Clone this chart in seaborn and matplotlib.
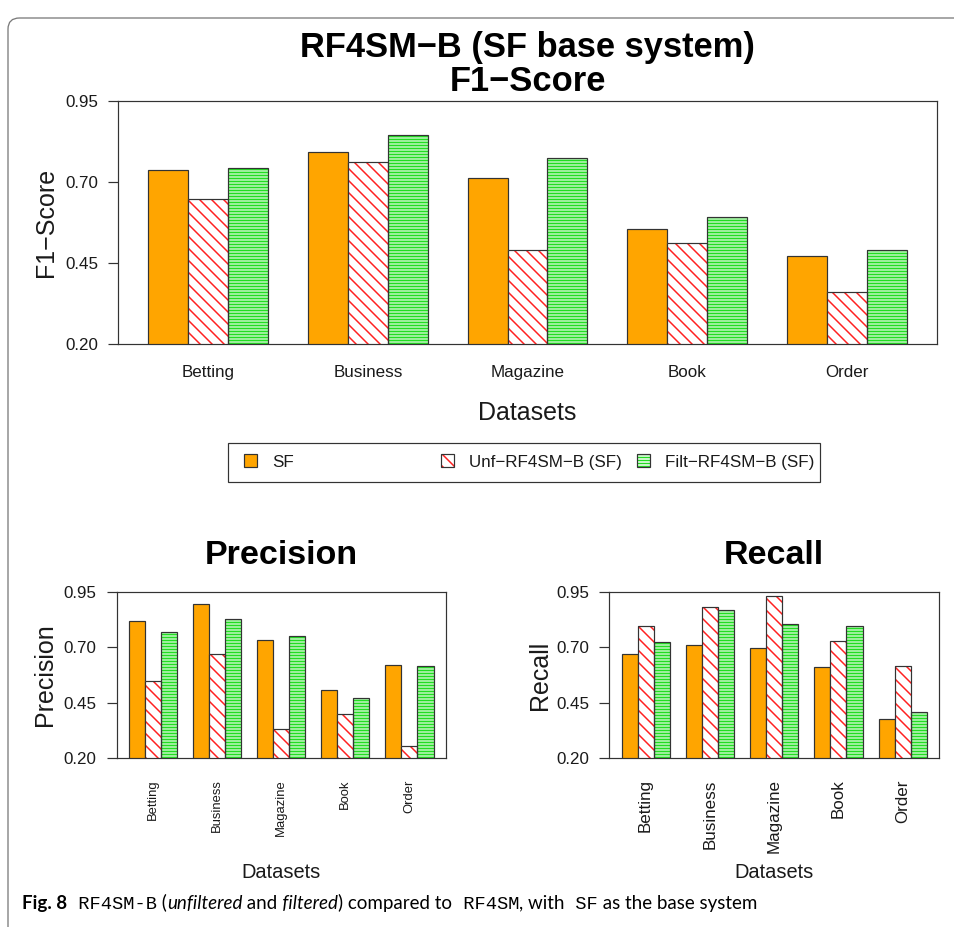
import matplotlib
matplotlib.use("Agg")
import matplotlib.pyplot as plt
import seaborn as sns
import pandas as pd
from matplotlib.patches import Patch, Rectangle, FancyBboxPatch
from matplotlib.offsetbox import TextArea, HPacker, AnchoredOffsetbox

# ---------------- data ----------------
datasets = ["Betting", "Business", "Magazine", "Book", "Order"]
methods = ["SF", "Unf\u2212RF4SM\u2212B (SF)", "Filt\u2212RF4SM\u2212B (SF)"]

f1_sf = [0.736, 0.792, 0.713, 0.556, 0.471]
f1_unf = [0.649, 0.761, 0.489, 0.513, 0.361]
f1_filt = [0.742, 0.846, 0.775, 0.592, 0.489]

prec_sf = [0.817, 0.896, 0.733, 0.509, 0.622]
prec_unf = [0.550, 0.671, 0.334, 0.398, 0.256]
prec_filt = [0.767, 0.827, 0.752, 0.470, 0.617]

rec_sf = [0.671, 0.712, 0.697, 0.613, 0.377]
rec_unf = [0.796, 0.883, 0.931, 0.728, 0.617]
rec_filt = [0.724, 0.868, 0.803, 0.797, 0.407]

yticks = [0.20, 0.45, 0.70, 0.95]
ytick_labels = ["0.20", "0.45", "0.70", "0.95"]

# ---------------- style ----------------
sns.set_style("white")
plt.rcParams["font.family"] = ["Liberation Sans", "DejaVu Sans"]
plt.rcParams["hatch.linewidth"] = 1.5

W, H = 954, 927
DPI = 72
fig = plt.figure(figsize=(W / DPI, H / DPI), dpi=DPI)
fig.patch.set_facecolor("white")

ORANGE = "#FFA500"
RED = "#FF2020"
GREEN = "#22DD22"
EDGE = "#333333"
TXT = "#1a1a1a"


def px_axes(x0, y0, x1, y1):
    return fig.add_axes([x0 / W, 1 - y1 / H, (x1 - x0) / W, (y1 - y0) / H])


def make_df(sf, unf, filt):
    rows = []
    for vals, m in zip([sf, unf, filt], methods):
        for d, v in zip(datasets, vals):
            rows.append({"Dataset": d, "Method": m, "Value": v})
    return pd.DataFrame(rows)


styles = [
    dict(face=ORANGE, hatch=None, hcol=None, hlw=None),
    dict(face="white", hatch="\\\\", hcol=RED, hlw=1.5),
    dict(face="white", hatch="----", hcol=GREEN, hlw=1.9),
]


def draw_bars(ax, sf, unf, filt, xfs, rot, xpad, ylab, ylab_x, xlab_y, xlab_fs):
    df = make_df(sf, unf, filt)
    sns.barplot(data=df, x="Dataset", y="Value", hue="Method", order=datasets,
                hue_order=methods, palette=[ORANGE, "white", "white"],
                width=0.75, gap=0, edgecolor=EDGE, linewidth=1.2,
                saturation=1, legend=False, ax=ax, errorbar=None)
    for cont, st in zip(ax.containers, styles):
        for bar in cont:
            if st["hatch"] is None:
                bar.set_facecolor(st["face"])
                continue
            bar.set_facecolor("white")
            bar.set_hatch(st["hatch"])
            bar.set_edgecolor(st["hcol"])
            bar.set_linewidth(0)
            if hasattr(bar, "set_hatch_linewidth"):
                bar.set_hatch_linewidth(st["hlw"])
            ax.add_patch(Rectangle((bar.get_x(), bar.get_y()), bar.get_width(),
                                   bar.get_height(), fill=False, ec=EDGE, lw=1.2,
                                   zorder=bar.get_zorder() + 0.1))
    ax.set_xlim(-0.565, 4.565)
    ax.set_ylim(0.20, 0.95)
    ax.set_yticks(yticks)
    ax.set_yticklabels(ytick_labels)
    ax.set_xticks(range(len(datasets)))
    ax.set_xticklabels(datasets, rotation=rot)
    ax.tick_params(axis="y", length=10, width=1.2, color=EDGE, pad=10,
                   labelsize=17, labelcolor=TXT, left=True)
    ax.tick_params(axis="x", length=0, pad=xpad, labelsize=xfs, labelcolor=TXT)
    for s in ax.spines.values():
        s.set_visible(True)
        s.set_color(EDGE)
        s.set_linewidth(1.2)
    ax.set_ylabel(ylab, fontsize=25, color=TXT)
    ax.yaxis.set_label_coords(ylab_x, 0.5)
    ax.set_xlabel("Datasets", fontsize=xlab_fs, color=TXT, va="center")
    ax.xaxis.set_label_coords(0.5, xlab_y)


# ---------------- top F1 chart ----------------
ax_top = px_axes(118, 101, 937, 344)
draw_bars(ax_top, f1_sf, f1_unf, f1_filt, xfs=17, rot=0, xpad=21,
          ylab="F1\u2212Score", ylab_x=-0.073, xlab_y=-0.286, xlab_fs=25)
ax_top.text(0.5, 1.183, "RF4SM\u2212B (SF base system)", transform=ax_top.transAxes,
            ha="center", va="baseline", fontsize=34.5, fontweight="bold", color="black")
ax_top.text(0.5, 1.043, "F1\u2212Score", transform=ax_top.transAxes,
            ha="center", va="baseline", fontsize=34.5, fontweight="bold", color="black")

# ---------------- bottom charts ----------------
ax_p = px_axes(116.7, 591.7, 445.7, 758.3)
draw_bars(ax_p, prec_sf, prec_unf, prec_filt, xfs=13, rot=90, xpad=21,
          ylab="Precision", ylab_x=-0.181, xlab_y=-0.685, xlab_fs=20)
ax_p.set_title("Precision", fontsize=34, fontweight="bold", color="black", y=1.169, pad=0)

ax_r = px_axes(609.3, 591.7, 939, 758.3)
draw_bars(ax_r, rec_sf, rec_unf, rec_filt, xfs=17, rot=90, xpad=21,
          ylab="Recall", ylab_x=-0.174, xlab_y=-0.685, xlab_fs=20)
ax_r.set_title("Recall", fontsize=34, fontweight="bold", color="black", y=1.169, pad=0)

# ---------------- legend ----------------
fig.add_artist(Rectangle((228 / W, 1 - 482 / H), (820 - 228) / W, 39 / H,
                         transform=fig.transFigure, fill=False, ec=EDGE, lw=1.2))
handles = [
    (Patch(fc=ORANGE, ec=EDGE, lw=1.2),),
    (Patch(fc="white", ec=RED, hatch="\\\\", lw=0), Patch(fill=False, ec=EDGE, lw=1.2)),
    (Patch(fc="white", ec=GREEN, hatch="----", lw=0), Patch(fill=False, ec=EDGE, lw=1.2)),
]
for hnd, lab, xh in zip(handles, methods, [244, 441, 637]):
    fig.legend([hnd], [lab], loc="center left", bbox_to_anchor=(xh / W, 1 - 462 / H),
               frameon=False, borderpad=0, borderaxespad=0, fontsize=17,
               handlelength=0.77, handleheight=0.77, handletextpad=0.9,
               labelcolor=TXT)

# ---------------- card border ----------------
fig.add_artist(FancyBboxPatch((8 / W, -0.2), 1.2, 0.2 + (1 - 18 / H),
                              boxstyle="round,pad=0,rounding_size=0.012",
                              transform=fig.transFigure, fill=False,
                              ec="#7a7a7a", lw=1.3, clip_on=False))

# ---------------- caption ----------------
cap_fs = 18.8
sans = "Lato"
mono = "Liberation Mono"
pieces = [
    ("Fig. 8", dict(family=sans, weight="bold")),
    (" RF4SM-B", dict(family=mono)),
    (" (", dict(family=sans)),
    ("unfiltered", dict(family=sans, style="italic")),
    (" and", dict(family=sans)),
    (" filtered", dict(family=sans, style="italic")),
    (") compared to", dict(family=sans)),
    (" RF4SM", dict(family=mono)),
    (", with", dict(family=sans)),
    (" SF", dict(family=mono)),
    (" as the base system", dict(family=sans)),
]
areas = [TextArea(t, textprops=dict(fontsize=cap_fs, color="black", **p)) for t, p in pieces]
pack = HPacker(children=areas, sep=0, pad=0, align="baseline")
cap = AnchoredOffsetbox(loc="center left", child=pack, pad=0, borderpad=0,
                        bbox_to_anchor=(22 / W, 1 - 903 / H),
                        bbox_transform=fig.transFigure, frameon=False)
fig.add_artist(cap)

fig.savefig("out.png", dpi=DPI, facecolor="white")
